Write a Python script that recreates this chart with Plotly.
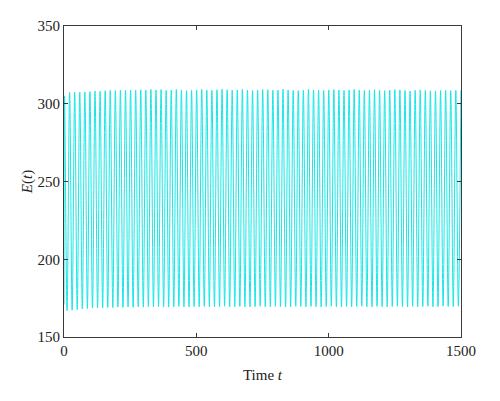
import plotly.graph_objects as go

# Times of local maxima / minima of E(t) and their values
t_start = [0.0]
E_start = [171.0]

t_peak = [2.0, 21.2, 40.4, 59.6, 78.8, 98.0, 117.2, 136.4, 155.6, 174.8, 194.0, 213.2, 232.4,
          251.6, 270.8, 290.0, 309.2, 328.4, 347.6, 366.8, 386.0, 405.2, 424.4, 443.6, 462.8,
          482.0, 501.2, 520.4, 539.6, 558.8, 578.0, 597.2, 616.4, 635.6, 654.8, 674.0, 693.2,
          712.4, 731.6, 750.8, 770.0, 789.2, 808.4, 827.6, 846.8, 866.0, 885.2, 904.4, 923.6,
          942.8, 962.0, 981.2, 1000.4, 1019.6, 1038.8, 1058.0, 1077.2, 1096.4, 1115.6, 1134.8,
          1154.0, 1173.2, 1192.4, 1211.6, 1230.8, 1250.0, 1269.2, 1288.4, 1307.6, 1326.8, 1346.0,
          1365.2, 1384.4, 1403.6, 1422.8, 1442.0, 1461.2, 1480.4, 1499.6]
E_peak = [305.0, 307.3, 307.4, 307.4, 307.6, 307.8, 308.2, 308.0, 308.4, 308.6, 308.5, 308.8, 308.6,
          308.9, 308.7, 309.0, 308.8, 309.2, 308.9, 309.1, 308.6, 308.8, 309.2, 308.9, 308.4,
          308.5, 308.9, 309.2, 308.8, 308.6, 309.0, 309.3, 309.0, 308.7, 308.9, 309.2, 308.8,
          308.5, 308.7, 309.1, 309.0, 308.6, 308.8, 309.3, 308.9, 308.5, 308.4, 308.8, 309.2,
          308.9, 308.6, 308.5, 308.9, 309.1, 308.8, 308.6, 308.9, 309.2, 308.8, 308.5,
          308.7, 309.0, 308.6, 308.4, 308.8, 309.1, 308.9, 308.5, 308.2, 308.6, 308.9,
          308.6, 308.3, 308.2, 308.5, 308.7, 308.4, 308.6, 308.5]

t_trough = [11.6, 30.8, 50.0, 69.2, 88.4, 107.6, 126.8, 146.0, 165.2, 184.4, 203.6, 222.8, 242.0,
            261.2, 280.4, 299.6, 318.8, 338.0, 357.2, 376.4, 395.6, 414.8, 434.0, 453.2, 472.4,
            491.6, 510.8, 530.0, 549.2, 568.4, 587.6, 606.8, 626.0, 645.2, 664.4, 683.6, 702.8,
            722.0, 741.2, 760.4, 779.6, 798.8, 818.0, 837.2, 856.4, 875.6, 894.8, 914.0, 933.2,
            952.4, 971.6, 990.8, 1010.0, 1029.2, 1048.4, 1067.6, 1086.8, 1106.0, 1125.2, 1144.4,
            1163.6, 1182.8, 1202.0, 1221.2, 1240.4, 1259.6, 1278.8, 1298.0, 1317.2, 1336.4, 1355.6,
            1374.8, 1394.0, 1413.2, 1432.4, 1451.6, 1470.8, 1490.0]
E_trough = [167.0, 167.2, 167.6, 168.0, 168.3, 168.6, 168.8, 168.7, 169.0, 168.9, 169.2, 169.0, 169.3,
            169.1, 169.4, 169.2, 169.5, 169.3, 169.6, 169.4, 169.2, 169.5, 169.7, 169.4, 169.3,
            169.6, 169.4, 169.7, 169.5, 169.3, 169.6, 169.8, 169.5, 169.4, 169.7, 169.5, 169.3,
            169.6, 169.8, 169.5, 169.4, 169.7, 169.6, 169.3, 169.5, 169.8, 169.6, 169.4, 169.7,
            169.5, 169.3, 169.6, 169.8, 169.5, 169.4, 169.7, 169.5, 169.6, 169.8, 169.5,
            169.4, 169.7, 169.5, 169.3, 169.6, 169.8, 169.6, 169.4, 169.7, 169.5, 169.6,
            169.8, 169.5, 169.6, 169.9, 169.7, 169.6, 169.8]

# interleave extrema in time order
pts = sorted(list(zip(t_start, E_start)) + list(zip(t_peak, E_peak)) + list(zip(t_trough, E_trough)))
t_all = [p[0] for p in pts]
E_all = [p[1] for p in pts]

x_ticks = [0, 500, 1000, 1500]
y_ticks = [150, 200, 250, 300, 350]

fig = go.Figure()
fig.add_trace(go.Scatter(x=t_all, y=E_all, mode="lines",
                         line=dict(color="#18e6e6", width=1), line_shape="spline",
                         showlegend=False, hoverinfo="skip"))

axis_common = dict(showgrid=False, zeroline=False, showline=True, linecolor="#3a3a3a",
                   linewidth=1, mirror="allticks", ticks="inside", ticklen=4, tickwidth=1,
                   tickcolor="#3a3a3a",
                   tickfont=dict(family="Liberation Serif", size=15, color="#222"))

fig.update_xaxes(range=[0, 1500], tickvals=x_ticks, **axis_common,
                 title=dict(text="Time <i>t</i>", font=dict(family="Liberation Serif", size=15, color="#222"),
                            standoff=11))
fig.update_yaxes(range=[150, 350], tickvals=y_ticks, **axis_common,
                 title=dict(text="<i>E</i>(<i>t</i>)", font=dict(family="Liberation Serif", size=15, color="#222"),
                            standoff=1))

fig.update_layout(width=492, height=393, margin=dict(l=56, r=39, t=18, b=64, autoexpand=False),
                  paper_bgcolor="white", plot_bgcolor="white")

fig.write_html("out.html")
